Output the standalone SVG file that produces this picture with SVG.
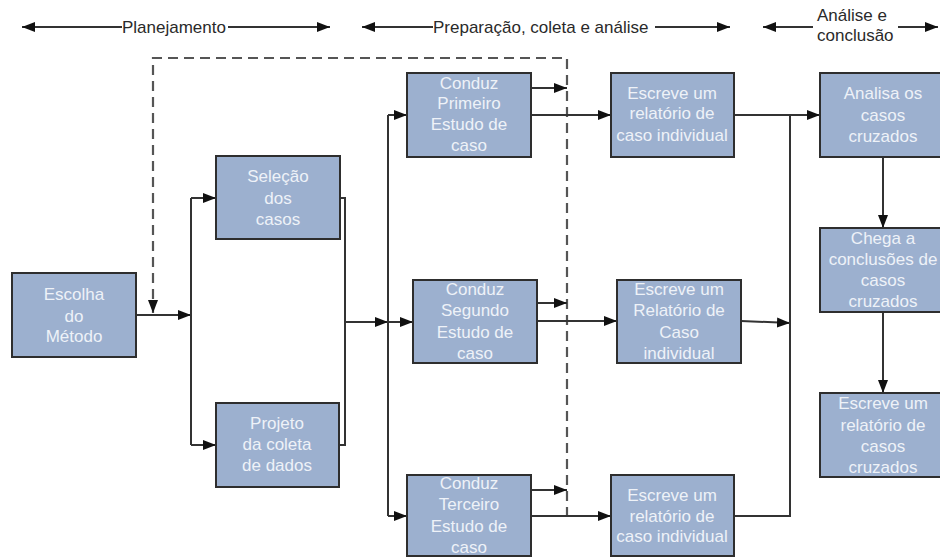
<svg xmlns="http://www.w3.org/2000/svg" width="940" height="558" viewBox="0 0 940 558">
<style>
.box{fill:#9cb0cf;stroke:#2e2e2e;stroke-width:2}
.bt{font-family:"Liberation Sans",Arial,sans-serif;font-size:17px;fill:#eef2f8;text-anchor:middle}
.ht{font-family:"Liberation Sans",Arial,sans-serif;font-size:17px;fill:#2a2a2a}
.c{fill:none;stroke:#333;stroke-width:2}
.d{fill:none;stroke:#555;stroke-width:2.2;stroke-dasharray:10,6}
</style>
<defs>
<marker id="ah" markerUnits="userSpaceOnUse" markerWidth="14" markerHeight="12" refX="13" refY="6" orient="auto">
<path d="M0,1 L13,6 L0,11 Z" fill="#111"/>
</marker>
</defs>
<rect width="940" height="558" fill="#fff"/>
<g id="header">
<text class="ht" x="122" y="33">Planejamento</text>
<text class="ht" x="433" y="33">Preparação, coleta e análise</text>
<text class="ht" x="817" y="21">Análise e</text>
<text class="ht" x="817" y="41">conclusão</text>
<path class="c" d="M122,27 H22" marker-end="url(#ah)"/>
<path class="c" d="M228,27 H330" marker-end="url(#ah)"/>
<path class="c" d="M433,27 H362" marker-end="url(#ah)"/>
<path class="c" d="M655,27 H730" marker-end="url(#ah)"/>
<path class="c" d="M813,27 H763" marker-end="url(#ah)"/>
<path class="c" d="M898,27 H938" marker-end="url(#ah)"/>
</g>
<g id="connectors">
<path class="d" d="M567,517 V58 H153 V313" marker-end="url(#ah)"/>
<path class="c" d="M136,315 H191" marker-end="url(#ah)"/>
<path class="c" d="M191,198 V445"/>
<path class="c" d="M191,198 H216" marker-end="url(#ah)"/>
<path class="c" d="M191,445 H216" marker-end="url(#ah)"/>
<path class="c" d="M340,198 H345 V445 H339"/>
<path class="c" d="M345,322 H388" marker-end="url(#ah)"/>
<path class="c" d="M388,115 V516"/>
<path class="c" d="M388,115 H407" marker-end="url(#ah)"/>
<path class="c" d="M388,322 H413" marker-end="url(#ah)"/>
<path class="c" d="M388,516 H407" marker-end="url(#ah)"/>
<path class="c" d="M531,88 H567" marker-end="url(#ah)"/>
<path class="c" d="M531,115 H611" marker-end="url(#ah)"/>
<path class="c" d="M537,303 H567" marker-end="url(#ah)"/>
<path class="c" d="M537,321 H617" marker-end="url(#ah)"/>
<path class="c" d="M531,490 H567" marker-end="url(#ah)"/>
<path class="c" d="M531,516 H611" marker-end="url(#ah)"/>
<path class="c" d="M734,115 H820" marker-end="url(#ah)"/>
<path class="c" d="M741,321 L790,323" marker-end="url(#ah)"/>
<path class="c" d="M734,516 H790 V115"/>
<path class="c" d="M883,157 V228" marker-end="url(#ah)"/>
<path class="c" d="M883,312 V393" marker-end="url(#ah)"/>
</g>
<g id="escolha">
<rect class="box" x="12" y="273" width="124" height="84"/>
<text class="bt" x="74" y="300">Escolha</text>
<text class="bt" x="74" y="322">do</text>
<text class="bt" x="74" y="342">Método</text>
</g>
<g id="selecao">
<rect class="box" x="216" y="156" width="124" height="83"/>
<text class="bt" x="278" y="182">Seleção</text>
<text class="bt" x="278" y="204">dos</text>
<text class="bt" x="278" y="225">casos</text>
</g>
<g id="projeto">
<rect class="box" x="216" y="403" width="123" height="84"/>
<text class="bt" x="277" y="429">Projeto</text>
<text class="bt" x="277" y="450">da coleta</text>
<text class="bt" x="277" y="471">de dados</text>
</g>
<g id="conduz1">
<rect class="box" x="407" y="73" width="124" height="84"/>
<text class="bt" x="469" y="89">Conduz</text>
<text class="bt" x="469" y="109">Primeiro</text>
<text class="bt" x="469" y="130">Estudo de</text>
<text class="bt" x="469" y="151">caso</text>
</g>
<g id="conduz2">
<rect class="box" x="413" y="280" width="124" height="83"/>
<text class="bt" x="475" y="295">Conduz</text>
<text class="bt" x="475" y="316">Segundo</text>
<text class="bt" x="475" y="338">Estudo de</text>
<text class="bt" x="475" y="359">caso</text>
</g>
<g id="conduz3">
<rect class="box" x="407" y="475" width="124" height="81"/>
<text class="bt" x="469" y="489">Conduz</text>
<text class="bt" x="469" y="510">Terceiro</text>
<text class="bt" x="469" y="532">Estudo de</text>
<text class="bt" x="469" y="553">caso</text>
</g>
<g id="relatorio1">
<rect class="box" x="611" y="73" width="123" height="84"/>
<text class="bt" x="672" y="99">Escreve um</text>
<text class="bt" x="672" y="119">relatório de</text>
<text class="bt" x="672" y="141">caso individual</text>
</g>
<g id="relatorio2">
<rect class="box" x="617" y="280" width="124" height="83"/>
<text class="bt" x="679" y="295">Escreve um</text>
<text class="bt" x="679" y="316">Relatório de</text>
<text class="bt" x="679" y="338">Caso</text>
<text class="bt" x="679" y="359">individual</text>
</g>
<g id="relatorio3">
<rect class="box" x="611" y="475" width="123" height="81"/>
<text class="bt" x="672" y="501">Escreve um</text>
<text class="bt" x="672" y="522">relatório de</text>
<text class="bt" x="672" y="542">caso individual</text>
</g>
<g id="analisa">
<rect class="box" x="820" y="73" width="126" height="84"/>
<text class="bt" x="883" y="99">Analisa os</text>
<text class="bt" x="883" y="121">casos</text>
<text class="bt" x="883" y="142">cruzados</text>
</g>
<g id="chega">
<rect class="box" x="820" y="228" width="126" height="84"/>
<text class="bt" x="883" y="244">Chega a</text>
<text class="bt" x="883" y="265">conclusões de</text>
<text class="bt" x="883" y="286">casos</text>
<text class="bt" x="883" y="307">cruzados</text>
</g>
<g id="relatorio-cruzado">
<rect class="box" x="820" y="393" width="126" height="84"/>
<text class="bt" x="883" y="409">Escreve um</text>
<text class="bt" x="883" y="431">relatório de</text>
<text class="bt" x="883" y="452">casos</text>
<text class="bt" x="883" y="473">cruzados</text>
</g>
</svg>
